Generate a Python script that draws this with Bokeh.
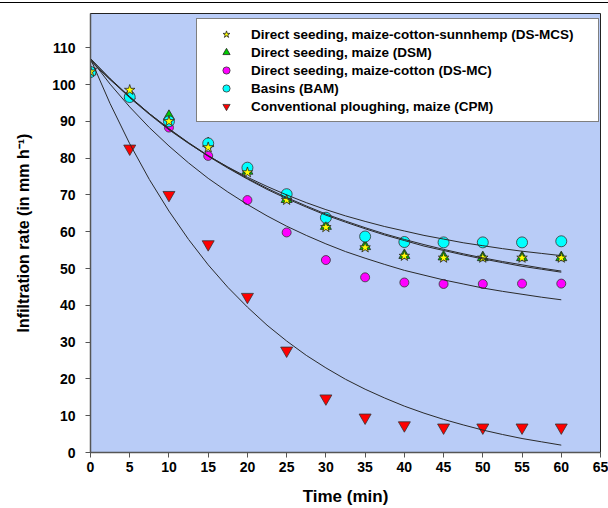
from bokeh.plotting import figure
from bokeh.models import Range1d, FixedTicker, Legend, LegendItem
from bokeh.embed import file_html
from bokeh.resources import INLINE

# ---- measured points (time in min, infiltration rate in mm/h) ----
time_pts = [0, 5, 10, 15, 20, 25, 30, 35, 40, 45, 50, 55, 60]
ds_mcs = [103.5, 98.5, 90.0, 82.9, 76.1, 68.6, 61.2, 55.7, 53.4, 52.9, 52.9, 52.9, 52.9]
dsm = [103.5, 97.0, 91.4, 84.0, 76.5, 68.8, 61.5, 56.0, 53.6, 53.2, 53.0, 53.0, 53.0]
ds_mc = [103.5, 97.1, 88.3, 80.6, 68.6, 59.8, 52.3, 47.6, 46.2, 45.8, 45.8, 45.9, 45.9]
bam = [103.4, 96.6, 90.0, 84.0, 77.4, 70.2, 63.8, 58.7, 57.2, 57.1, 57.1, 57.1, 57.4]
cpm = [103.5, 82.6, 70.0, 56.6, 42.3, 27.7, 14.7, 9.5, 7.4, 6.8, 6.8, 6.8, 6.8]

# ---- fitted curves ----
time_fit = [0, 2.5, 5, 7.5, 10, 12.5, 15, 17.5, 20, 22.5, 25, 27.5, 30,
            32.5, 35, 37.5, 40, 42.5, 45, 47.5, 50, 52.5, 55, 57.5, 60]
fit_ds_mcs = [107.0, 101.6, 96.7, 92.1, 87.9, 84.1, 80.5, 77.3, 74.3, 71.5, 69.0, 66.7, 64.5,
              62.6, 60.8, 59.1, 57.6, 56.1, 54.9, 53.7, 52.6, 51.6, 50.6, 49.8, 49.0]
fit_dsm = [106.4, 101.3, 96.6, 92.1, 88.0, 84.2, 80.7, 77.5, 74.5, 71.8, 69.3, 67.0, 64.8,
           62.9, 61.1, 59.4, 57.9, 56.5, 55.2, 54.0, 52.9, 51.9, 51.0, 50.1, 49.3]
fit_ds_mc = [107.0, 100.1, 93.9, 88.3, 83.3, 78.7, 74.5, 70.8, 67.4, 64.3, 61.5, 59.0, 56.7,
             54.6, 52.8, 51.1, 49.5, 48.2, 46.9, 45.8, 44.7, 43.8, 43.0, 42.2, 41.5]
fit_bam = [107.0, 101.5, 96.4, 91.9, 87.7, 84.0, 80.6, 77.6, 74.8, 72.3, 70.0, 67.9, 66.0,
           64.3, 62.8, 61.4, 60.2, 59.0, 58.0, 57.0, 56.2, 55.4, 54.7, 54.1, 53.5]
fit_cpm = [107.0, 94.8, 83.9, 74.2, 65.6, 57.9, 51.0, 44.9, 39.5, 34.6, 30.3, 26.4, 23.0,
           19.9, 17.2, 14.8, 12.6, 10.7, 9.0, 7.5, 6.1, 4.9, 3.8, 2.9, 2.0]

labels = ["Direct seeding, maize-cotton-sunnhemp (DS-MCS)",
          "Direct seeding, maize (DSM)",
          "Direct seeding, maize-cotton (DS-MC)",
          "Basins (BAM)",
          "Conventional ploughing, maize (CPM)"]

x_ticks = list(range(0, 66, 5))
y_ticks = list(range(0, 111, 10))

FONT = "Liberation Sans"

p = figure(width=608, height=508, x_range=Range1d(0, 65), y_range=Range1d(0, 119.3),
           output_backend="svg", toolbar_location=None,
           min_border_left=90, min_border_right=8, min_border_top=13, min_border_bottom=54)
p.background_fill_color = "#B9CCF7"
p.border_fill_alpha = 0.0
p.styles = {"background": "linear-gradient(to bottom, white 0px, white 2px, black 2px, "
                          "black 3px, white 3px, white 100%)"}
p.outline_line_color = "#222222"
p.outline_line_width = 1
p.grid.visible = False

p.xaxis.ticker = FixedTicker(ticks=x_ticks)
p.yaxis.ticker = FixedTicker(ticks=y_ticks)
for ax in (p.xaxis[0], p.yaxis[0]):
    ax.axis_line_color = "#555555"
    ax.axis_line_width = 1.5
    ax.major_tick_line_color = "#555555"
    ax.major_tick_in = 0
    ax.major_tick_out = 5
    ax.minor_tick_line_color = None
    ax.major_label_text_font = FONT
    ax.major_label_text_font_style = "bold"
    ax.major_label_text_font_size = "14px"
    ax.major_label_text_color = "black"
    ax.axis_label_text_font = FONT
    ax.axis_label_text_font_style = "bold"
    ax.axis_label_text_color = "black"

p.xaxis.axis_label = "Time (min)"
p.xaxis.axis_label_text_font_size = "17px"
p.xaxis.major_label_standoff = 4
p.xaxis.axis_label_standoff = 12
p.yaxis.axis_label = "Infiltration rate (in mm h\u207b\u00b9)"
p.yaxis.axis_label_text_font_size = "16px"
p.yaxis.major_label_standoff = 10
p.yaxis.axis_label_standoff = 17

# markers
r_cpm = p.scatter(time_pts, cpm, marker="inverted_triangle", size=12,
                  fill_color="#FF0000", line_color="#333333", line_width=0.8)
r_dsmc = p.scatter(time_pts, ds_mc, marker="circle", size=9,
                   fill_color="#FF00FF", line_color="#333333", line_width=0.8)
r_dsm = p.scatter(time_pts, dsm, marker="triangle", size=11,
                  fill_color="#00CC00", line_color="#222222", line_width=0.8)
r_bam = p.scatter(time_pts, bam, marker="circle", size=11,
                  fill_color="#00FFFF", line_color="#333333", line_width=0.8)
r_mcs = p.scatter(time_pts, ds_mcs, marker="star", size=11,
                  fill_color="#FFFF00", line_color="#222222", line_width=0.8)

# fitted curves
for curve in (fit_ds_mcs, fit_dsm, fit_ds_mc, fit_bam, fit_cpm):
    p.line(time_fit, curve, line_color="#2a2a2a", line_width=1)

legend = Legend(items=[LegendItem(label=labels[0], renderers=[r_mcs]),
                       LegendItem(label=labels[1], renderers=[r_dsm]),
                       LegendItem(label=labels[2], renderers=[r_dsmc]),
                       LegendItem(label=labels[3], renderers=[r_bam]),
                       LegendItem(label=labels[4], renderers=[r_cpm])],
                location=(106, 330))
legend.padding = 6
legend.margin = 0
legend.spacing = 0
legend.glyph_height = 18
legend.glyph_width = 46
legend.label_height = 18
legend.label_standoff = 2
legend.label_width = 341
legend.label_text_font = FONT
legend.label_text_font_style = "bold"
legend.label_text_font_size = "13.5px"
legend.label_text_color = "black"
legend.border_line_color = "black"
legend.border_line_width = 1
legend.background_fill_color = "white"
legend.background_fill_alpha = 1.0
p.add_layout(legend, "center")

open("out.html", "w").write(file_html(p, INLINE))
